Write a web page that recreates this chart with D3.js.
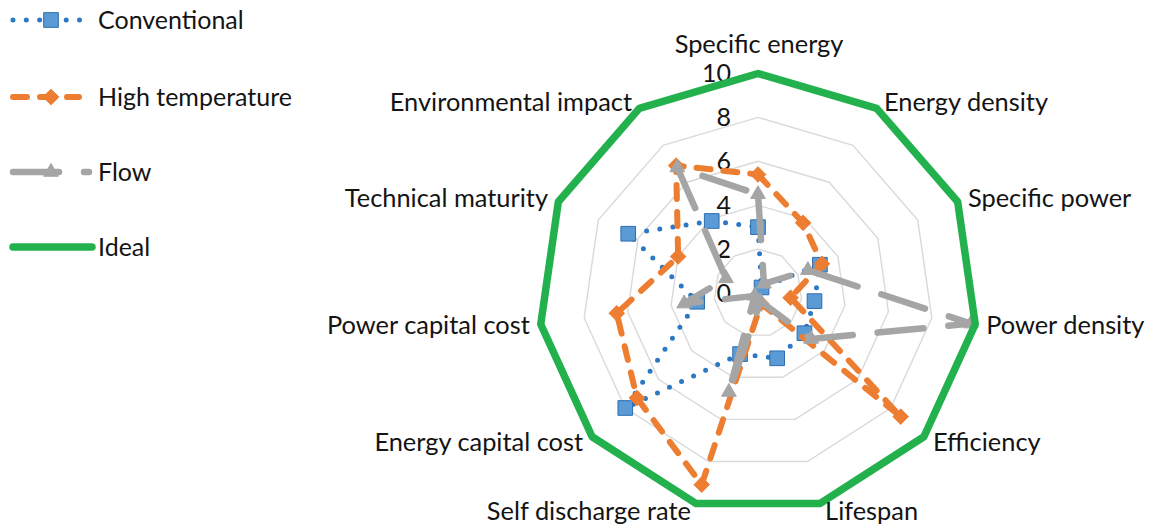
<!DOCTYPE html>
<html>
<head>
<meta charset="utf-8">
<script src="https://cdn.jsdelivr.net/npm/d3@7"></script>
<style>
  html, body { margin: 0; padding: 0; background: #fff; }
  svg { display: block; }
  text { font-family: Lato, "Liberation Sans", sans-serif; fill: #141414; }
</style>
</head>
<body>
<svg id="chart" width="1149" height="527"></svg>
<script>
// Performance ratings of three battery families against an ideal reference (0–10 scale)
const categories = [
  "Specific energy", "Energy density", "Specific power", "Power density",
  "Efficiency", "Lifespan", "Self discharge rate", "Energy capital cost",
  "Power capital cost", "Technical maturity", "Environmental impact"
];
const conventional    = [3.0, 0.3, 3.1, 2.6, 2.8, 3.1, 2.9, 8.0, 2.8, 6.5, 3.9];
const highTemperature = [5.4, 3.8, 3.2, 1.5, 8.6, 0.5, 9.1, 7.3, 6.5, 4.0, 6.9];
const flow            = [4.5, 0.5, 2.5, 9.8, 3.2, 0.4, 4.7, 0.2, 3.4, 1.6, 6.8];
const ideal           = [10, 10, 10, 10, 10, 10, 10, 10, 10, 10, 10];
const seriesNames = ["Conventional", "High temperature", "Flow", "Ideal"];
const tickValues = [0, 2, 4, 6, 8, 10];

const series = [
  { name: seriesNames[0], values: conventional, color: "#2B78C5", width: 5, dash: "0 13.3", cap: "round",
    marker: "square", markerFill: "#5B9BD5", markerStroke: "#2E6DB0" },
  { name: seriesNames[1], values: highTemperature, color: "#ED7D31", width: 6, dash: "14 13", cap: "round",
    marker: "diamond", markerFill: "#ED7D31", markerStroke: "#ED7D31" },
  { name: seriesNames[2], values: flow, color: "#A5A5A5", width: 6.5, dash: "46 25", cap: "round",
    marker: "triangle", markerFill: "#A5A5A5", markerStroke: "#A5A5A5" },
  { name: seriesNames[3], values: ideal, color: "#22B14C", width: 7.5, dash: null, cap: "round",
    marker: null }
];

const svg = d3.select("#chart");
const cx = 758, cy = 293, outerR = 219.5;
const n = categories.length;

const r = d3.scaleLinear().domain([0, 10]).range([0, outerR]);
const angle = d3.scaleLinear().domain([0, n]).range([0, 2 * Math.PI]);

const plot = svg.append("g").attr("transform", `translate(${cx},${cy})`);

// concentric gridlines
const ring = d3.lineRadial()
  .angle((d, i) => angle(i))
  .radius(d => r(d))
  .curve(d3.curveLinearClosed);

plot.append("g").selectAll("path")
  .data(tickValues.filter(v => v > 0))
  .join("path")
  .attr("d", v => ring(d3.range(n).map(() => v)))
  .attr("fill", "none")
  .attr("stroke", "#D9D9D9")
  .attr("stroke-width", 1.4);

// value labels along the top spoke
plot.append("g").selectAll("text")
  .data(tickValues)
  .join("text")
  .attr("x", -27)
  .attr("y", v => -r(v))
  .attr("dy", "0.35em")
  .attr("text-anchor", "end")
  .attr("font-size", 25)
  .text(v => v);

// marker shapes
const symbolType = { square: d3.symbolSquare, diamond: d3.symbolDiamond2, triangle: d3.symbolTriangle2 };
const symbolSize = { square: 215, diamond: 155, triangle: 155 };

const pointAt = (v, i) => {
  const a = angle(i);
  return [Math.sin(a) * r(v), -Math.cos(a) * r(v)];
};

series.forEach(s => {
  const g = plot.append("g");
  g.append("path")
    .attr("d", ring(s.values))
    .attr("fill", "none")
    .attr("stroke", s.color)
    .attr("stroke-width", s.width)
    .attr("stroke-linecap", s.cap)
    .attr("stroke-linejoin", "round")
    .attr("stroke-dasharray", s.dash);
  if (s.marker) {
    g.selectAll("path.mk")
      .data(s.values)
      .join("path")
      .attr("class", "mk")
      .attr("transform", (v, i) => `translate(${pointAt(v, i)})`)
      .attr("d", d3.symbol().type(symbolType[s.marker]).size(symbolSize[s.marker]))
      .attr("fill", s.markerFill)
      .attr("stroke", s.markerStroke)
      .attr("stroke-width", 1);
  }
});

// category labels around the outer ring
plot.append("g").selectAll("text")
  .data(categories)
  .join("text")
  .attr("font-size", 25.4)
  .each(function (name, i) {
    const a = angle(i);
    const sn = Math.sin(a), cs = Math.cos(a);
    const [vx, vy] = pointAt(10, i);
    const t = d3.select(this).text(name);
    if (i === 0) {
      t.attr("x", vx + 1).attr("y", vy - 21).attr("text-anchor", "middle");
    } else {
      const off = 3 + 8 * Math.abs(sn);
      t.attr("x", vx + (sn > 0 ? off : -off))
       .attr("y", vy - 8 * cs)
       .attr("dy", "0.35em")
       .attr("text-anchor", sn > 0 ? "start" : "end");
    }
  });

// legend
const legendY = [20, 97, 172, 247];
const legendSpan = [[13, 80], [13, 79], [13, 89], [13, 92]];
const legend = svg.append("g");
series.forEach((s, k) => {
  const y = legendY[k];
  const g = legend.append("g");
  g.append("line")
    .attr("x1", legendSpan[k][0]).attr("x2", legendSpan[k][1])
    .attr("y1", y).attr("y2", y)
    .attr("stroke", s.color)
    .attr("stroke-width", s.width)
    .attr("stroke-linecap", s.cap)
    .attr("stroke-dasharray", s.dash);
  if (s.marker) {
    g.append("path")
      .attr("transform", `translate(51,${y})`)
      .attr("d", d3.symbol().type(symbolType[s.marker]).size(symbolSize[s.marker]))
      .attr("fill", s.markerFill)
      .attr("stroke", s.markerStroke)
      .attr("stroke-width", 1);
  }
  g.append("text")
    .attr("x", 98)
    .attr("y", y)
    .attr("dy", "0.35em")
    .attr("font-size", 25)
    .text(s.name);
});
</script>
</body>
</html>
